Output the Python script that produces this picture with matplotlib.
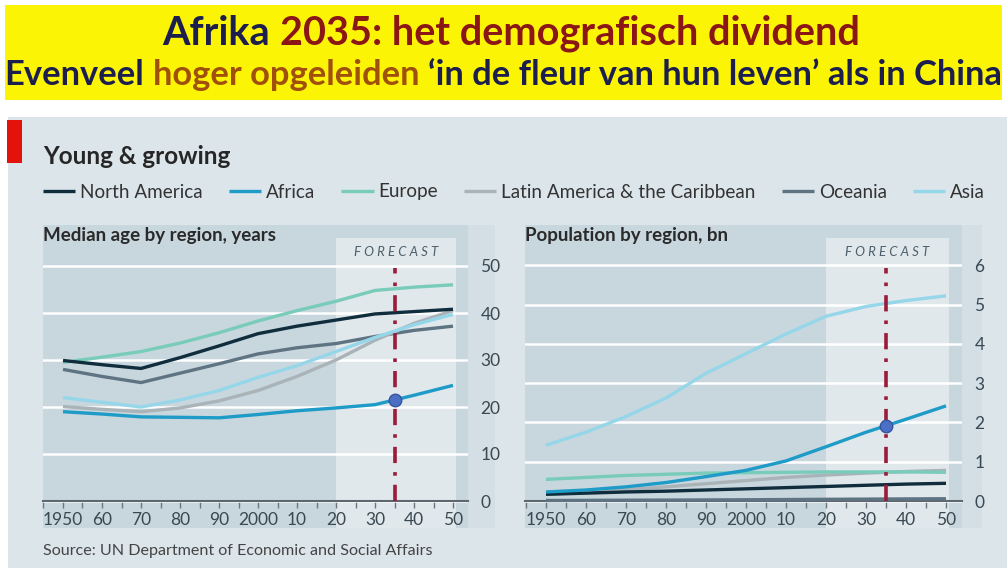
import numpy as np
import matplotlib
matplotlib.use("Agg")
import matplotlib.pyplot as plt
from matplotlib.patches import Rectangle
from matplotlib.ticker import MultipleLocator

plt.rcParams["font.family"] = ["Lato", "DejaVu Sans"]

# data
years = [1950, 1960, 1970, 1980, 1990, 2000, 2010, 2020, 2030, 2040, 2050]
year_labels = ["1950", "60", "70", "80", "90", "2000", "10", "20", "30", "40", "50"]
regions = ["North America", "Africa", "Europe", "Latin America & the Caribbean", "Oceania", "Asia"]

# median age, years
age_ticks = [0, 10, 20, 30, 40, 50]
age_north_america = [29.9, 29.0, 28.2, 30.5, 33.0, 35.6, 37.2, 38.5, 39.8, 40.3, 40.8]
age_africa = [19.0, 18.5, 17.9, 17.8, 17.7, 18.4, 19.2, 19.8, 20.5, 22.5, 24.6]
age_europe = [29.5, 30.6, 31.8, 33.6, 35.8, 38.3, 40.5, 42.5, 44.8, 45.5, 46.0]
age_latam = [20.1, 19.5, 19.0, 19.8, 21.3, 23.5, 26.5, 30.0, 34.2, 37.8, 40.5]
age_oceania = [28.0, 26.5, 25.2, 27.2, 29.2, 31.3, 32.6, 33.5, 35.0, 36.3, 37.2]
age_asia = [22.0, 21.0, 20.0, 21.5, 23.5, 26.3, 28.8, 31.8, 34.8, 37.5, 39.7]

# population, bn
pop_ticks = [0, 1, 2, 3, 4, 5, 6]
pop_north_america = [0.17, 0.20, 0.23, 0.25, 0.28, 0.31, 0.34, 0.37, 0.40, 0.43, 0.45]
pop_africa = [0.23, 0.28, 0.36, 0.47, 0.62, 0.78, 1.02, 1.38, 1.75, 2.08, 2.42]
pop_europe = [0.55, 0.60, 0.65, 0.68, 0.71, 0.72, 0.73, 0.74, 0.74, 0.74, 0.73]
pop_latam = [0.17, 0.22, 0.29, 0.36, 0.44, 0.52, 0.60, 0.66, 0.71, 0.75, 0.78]
pop_oceania = [0.013, 0.016, 0.020, 0.023, 0.027, 0.031, 0.037, 0.043, 0.048, 0.053, 0.057]
pop_asia = [1.42, 1.75, 2.15, 2.62, 3.25, 3.75, 4.25, 4.70, 4.95, 5.10, 5.22]

forecast_start, forecast_end = 2020, 2050.7
highlight_year = 2035

colors = {
    "North America": "#0f2d3c",
    "Africa": "#1e9bc7",
    "Europe": "#78ccb9",
    "Latin America & the Caribbean": "#aab3b8",
    "Oceania": "#5f7482",
    "Asia": "#96d6e9",
}
draw_order = ["Oceania", "Latin America & the Caribbean", "Asia", "Europe", "North America", "Africa"]

W, H = 1007, 568
fig = plt.figure(figsize=(W / 100, H / 100), dpi=100)
fig.patch.set_facecolor("white")


def box(x0, y0, x1, y1, color, z):
    fig.add_artist(Rectangle((x0 / W, 1 - y1 / H), (x1 - x0) / W, (y1 - y0) / H,
                             transform=fig.transFigure, color=color, lw=0, zorder=z))


def px_axes(x0, y0, x1, y1):
    return fig.add_axes([x0 / W, 1 - y1 / H, (x1 - x0) / W, (y1 - y0) / H])


# backgrounds
box(5, 5, 1002, 100, "#fbf505", -5)
box(8, 117, 1007, 568, "#dce5ea", -5)
box(7, 120, 22, 163, "#e3120b", -4)
box(43, 225, 495, 528, "#d3dee5", -4)
box(525, 225, 982, 528, "#d3dee5", -4)

hist_col = "#c8d6de"
fore_col = "#e0e8ec"
tick_col = "#3a4852"


def setup(ax, xlim, ylim, yticks):
    ax.set_facecolor(hist_col)
    ax.set_xlim(*xlim)
    ax.set_ylim(*ylim)
    ax.axvspan(forecast_start, forecast_end, ymin=0, ymax=0.957, color=fore_col, lw=0, zorder=0.2)
    for s in ["top", "left", "right"]:
        ax.spines[s].set_visible(False)
    ax.spines["bottom"].set_position(("data", 0))
    ax.spines["bottom"].set_color("#5c6770")
    ax.spines["bottom"].set_linewidth(1.5)
    ax.set_xticks(years)
    ax.set_xticklabels(year_labels)
    ax.xaxis.set_minor_locator(MultipleLocator(5))
    ax.tick_params(axis="x", which="both", length=5, width=1, color="#6b7780",
                   direction="out", labelsize=12.5, labelcolor=tick_col, pad=3)
    ax.yaxis.tick_right()
    ax.set_yticks(yticks)
    ax.tick_params(axis="y", length=0, pad=9, labelsize=12.5, labelcolor=tick_col)
    ax.grid(axis="y", color="white", lw=1.8)
    ax.set_axisbelow(True)
    ax.text((forecast_start + forecast_end) / 2, 0.911, "F O R E C A S T",
            transform=ax.get_xaxis_transform(), ha="center", va="center",
            fontsize=9.5, style="italic", color="#4d5f6b")


ax1 = px_axes(43, 225, 468, 528)
setup(ax1, (1950 - 20 / 3.9, 2050 + 15 / 3.9), (-27 / 4.7, 276 / 4.7), age_ticks)
ax2 = px_axes(525, 225, 962, 528)
setup(ax2, (1950 - 21 / 4.0, 2050 + 16 / 4.0), (-27 / 39.3, 276 / 39.3), pop_ticks)

age = dict(zip(regions, [age_north_america, age_africa, age_europe, age_latam, age_oceania, age_asia]))
pop = dict(zip(regions, [pop_north_america, pop_africa, pop_europe, pop_latam, pop_oceania, pop_asia]))

handles = {}
for ax, data in [(ax1, age), (ax2, pop)]:
    for r in draw_order:
        ln, = ax.plot(years, data[r], color=colors[r], lw=2.4, solid_capstyle="butt", zorder=3)
        handles[r] = ln
    ax.axvline(highlight_year, ymin=27 / 303, ymax=0.858, color="#9b1b3a", lw=2.6,
               linestyle=(0, (4.5, 2.5, 1, 2.5)), zorder=4)
    ax.plot(highlight_year, np.interp(highlight_year, years, data["Africa"]), "o",
            ms=9, color="#4b6fc4", mec="#34559e", mew=1, zorder=5)

fig.legend([handles[r] for r in regions], regions, loc="center left",
           bbox_to_anchor=(43 / W, 1 - 192 / H), ncol=6, frameon=False,
           borderpad=0, borderaxespad=0,
           fontsize=13.6, handlelength=1.7, handletextpad=0.25, columnspacing=1.4,
           labelcolor="#333333")

fig.text(43 / W, 1 - 157 / H, "Young & growing", fontsize=17.5, weight="bold",
         color="#262626", va="center", ha="left")
fig.text(43 / W, 1 - 236 / H, "Median age by region, years", fontsize=13.5,
         weight="bold", color="#2a2a2a", va="center", ha="left")
fig.text(525 / W, 1 - 236 / H, "Population by region, bn", fontsize=13.5,
         weight="bold", color="#2a2a2a", va="center", ha="left")
fig.text(43 / W, 1 - 551 / H, "Source: UN Department of Economic and Social Affairs",
         fontsize=11.6, color="#444444", va="center", ha="left")

# banner with coloured parts
renderer = fig.canvas.get_renderer()
navy = "#1c1f4e"


def banner_line(parts, cx, base_y, target_w, size):
    def build(sz):
        a = fig.text(0, 0, "a a", fontsize=sz, weight="bold")
        b = fig.text(0, 0, "aa", fontsize=sz, weight="bold")
        sp = a.get_window_extent(renderer).width - b.get_window_extent(renderer).width
        a.remove()
        b.remove()
        arts = []
        x = 0.0
        for s, c in parts:
            t = fig.text(x / W, 1 - base_y / H, s, color=c, fontsize=sz,
                         weight="bold", va="baseline", ha="left")
            arts.append((t, x))
            x += t.get_window_extent(renderer).width + sp
        return arts, x - sp

    arts, total = build(size)
    for t, _ in arts:
        t.remove()
    arts, total = build(size * target_w / total)
    shift = cx - total / 2
    for t, x in arts:
        t.set_x((x + shift) / W)


banner_line([("Afrika", navy), ("2035: het demografisch dividend", "#8b1616")],
            511, 45, 697, 24)
banner_line([("Evenveel", navy), ("hoger opgeleiden", "#a0500a"),
             ("\u2018in de fleur van hun leven\u2019 als in China", navy)],
            503, 85, 995, 22)

fig.savefig("out.png", dpi=100)
